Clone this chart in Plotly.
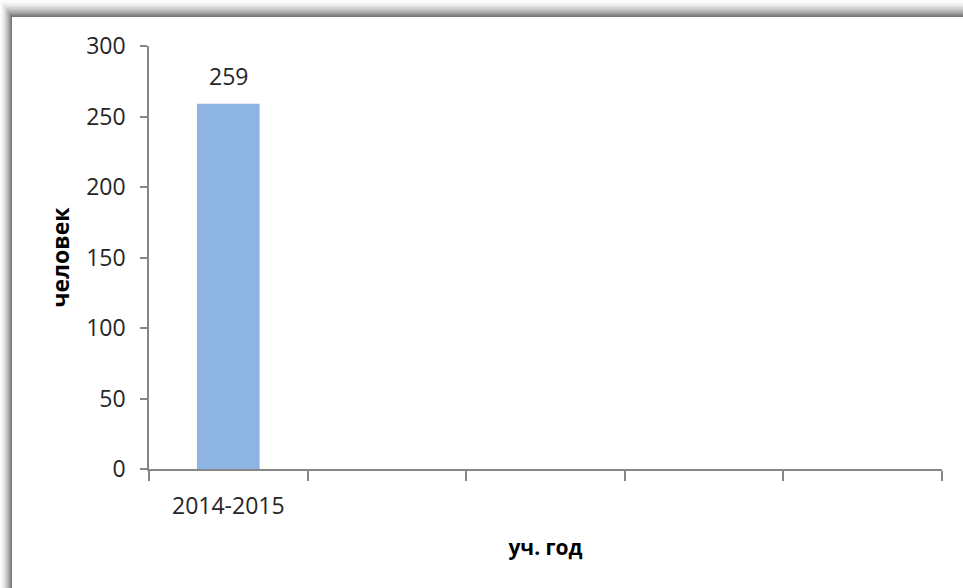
import plotly.graph_objects as go

# ---- data ----
categories = ["2014-2015", " ", "  ", "   ", "    "]
values = [259, None, None, None, None]
value_labels = ["259", "", "", "", ""]
y_ticks = [0, 50, 100, 150, 200, 250, 300]
y_title = "человек"
x_title = "уч. год"

# ---- layout geometry ----
FW, FH = 963, 588
L, R, T, B = 149, 21, 46, 119
PW, PH = FW - L - R, FH - T - B


def px_x(p):
    return (p - L) / PW


def px_y(p):
    return 1 - (p - T) / PH


FONT = "Open Sans"
AXIS_COLOR = "#868686"

fig = go.Figure()
fig.add_trace(go.Bar(
    x=categories,
    y=values,
    marker=dict(color="#8EB4E3", line=dict(width=0)),
    width=0.395,
    hoverinfo="skip",
))

# data labels above the bar
for c, v, t in zip(categories, values, value_labels):
    if v is not None and t:
        fig.add_annotation(x=c, y=v, text=t, showarrow=False, yanchor="bottom",
                           yshift=10, font=dict(family=FONT, size=23, color="#262626"))

# frame with soft shadow (top and left)
shapes = []
steps = 12
for i in range(steps):
    t = i / (steps - 1)
    g = int(252 - (252 - 120) * (t ** 1.6))
    x0 = i * 12 / steps
    y0 = i * 17 / steps
    shapes.append(dict(type="rect", xref="paper", yref="paper", layer="below",
                       x0=px_x(x0), x1=px_x(FW + 5), y0=px_y(y0), y1=px_y(FH + 5),
                       fillcolor=f"rgb({g},{g},{g})", line=dict(width=0)))
shapes.append(dict(type="rect", xref="paper", yref="paper", layer="below",
                   x0=px_x(12), x1=px_x(FW + 5), y0=px_y(17), y1=px_y(FH + 5),
                   fillcolor="white", line=dict(width=0)))

fig.update_layout(
    width=FW, height=FH,
    margin=dict(l=L, r=R, t=T, b=B, pad=0),
    paper_bgcolor="white",
    plot_bgcolor="rgba(0,0,0,0)",
    showlegend=False,
    shapes=shapes,
    font=dict(family=FONT, color="#262626"),
    xaxis=dict(
        type="category",
        showgrid=False, zeroline=False,
        showline=True, linecolor=AXIS_COLOR, linewidth=1.5,
        ticks="outside", ticklen=10, tickcolor=AXIS_COLOR, tickwidth=1.5,
        tickson="boundaries",
        tickfont=dict(family=FONT, size=23, color="#262626"),
        ticklabelstandoff=16,
        title=dict(text=f"<b>{x_title}</b>", font=dict(family=FONT, size=21, color="#000000"),
                   standoff=20),
    ),
    yaxis=dict(
        range=[0, 300],
        tickvals=y_ticks,
        showgrid=False, zeroline=False,
        showline=True, linecolor=AXIS_COLOR, linewidth=1.5,
        ticks="outside", ticklen=7, tickcolor=AXIS_COLOR, tickwidth=1.5,
        tickfont=dict(family=FONT, size=23, color="#262626"),
        ticklabelstandoff=10,
        title=dict(text=f"<b>{y_title}</b>", font=dict(family=FONT, size=23, color="#000000"),
                   standoff=10),
    ),
)

fig.write_html("out.html", config={"displayModeBar": False},
               post_script="document.body.style.margin='0';")
